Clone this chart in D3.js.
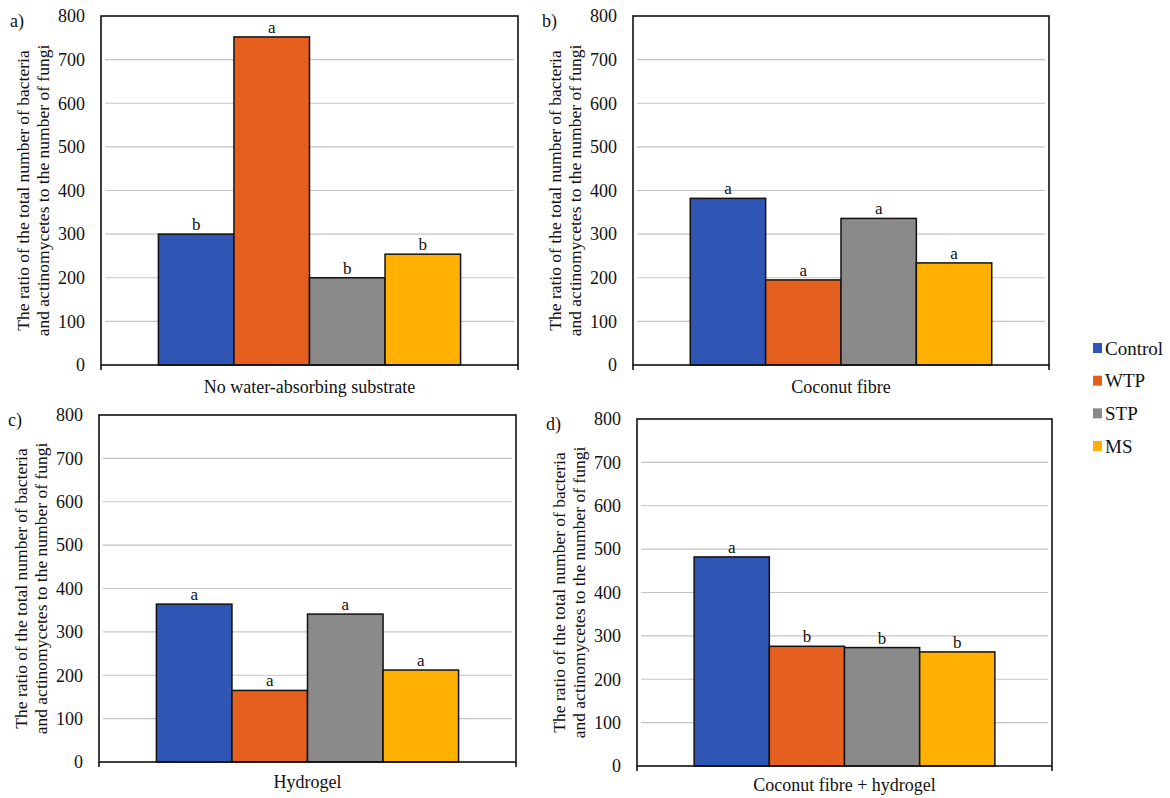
<!DOCTYPE html>
<html>
<head>
<meta charset="utf-8">
<script src="https://cdn.jsdelivr.net/npm/d3@7"></script>
<style>
  body { margin: 0; background: #fff; }
  svg { display: block; font-family: "Liberation Serif", "Times New Roman", serif; }
</style>
</head>
<body>
<svg id="chart" width="1170" height="798"></svg>
<script>
// treatments (series) and the four substrate panels
let categories = ["Control", "WTP", "STP", "MS"];
let colors = ["#2f55b5", "#e55f1f", "#8a8a8a", "#ffb000"];
let panelTags = ["a)", "b)", "c)", "d)"];
let panelTitles = ["No water-absorbing substrate", "Coconut fibre", "Hydrogel", "Coconut fibre + hydrogel"];
let yTicks = [0, 100, 200, 300, 400, 500, 600, 700, 800];

let valuesA = [300, 752, 200, 254];
let valuesB = [382, 195, 336, 234];
let valuesC = [364, 165, 341, 212];
let valuesD = [482, 276, 273, 263];

let lettersA = ["b", "a", "b", "b"];
let lettersB = ["a", "a", "a", "a"];
let lettersC = ["a", "a", "a", "a"];
let lettersD = ["a", "b", "b", "b"];

let yTitle = ["The ratio of the total number of bacteria", "and actinomycetes to the number of fungi"];

// plot boxes for each panel
let panels = [
    { x0: 101, x1: 518, y0: 16, y1: 365, labelGap: 28, values: valuesA, letters: lettersA },
    { x0: 633, x1: 1049, y0: 16, y1: 365, labelGap: 28, values: valuesB, letters: lettersB },
    { x0: 99, x1: 516, y0: 415, y1: 762, labelGap: 26, values: valuesC, letters: lettersC },
    { x0: 637, x1: 1052, y0: 419, y1: 766, labelGap: 25, values: valuesD, letters: lettersD }
];

let svg = d3.select("#chart");

panels.forEach(function (p, i) {
    let g = svg.append("g");

    let y = d3.scaleLinear().domain([0, 800]).range([p.y1, p.y0]);
    let x = d3.scaleBand()
        .domain(categories)
        .range([p.x0, p.x1])
        .paddingInner(0)
        .paddingOuter(0.76);

    // gridlines
    g.selectAll(".grid")
        .data(yTicks.filter(d => d > 0 && d < 800))
        .enter()
        .append("line")
        .attr("x1", p.x0 + 4)
        .attr("x2", p.x1 - 4)
        .attr("y1", d => y(d))
        .attr("y2", d => y(d))
        .attr("stroke", "#c4c4c4")
        .attr("stroke-width", 1.2);

    // bars
    g.selectAll(".bar")
        .data(p.values)
        .enter()
        .append("rect")
        .attr("x", (d, j) => x(categories[j]))
        .attr("y", d => y(d))
        .attr("width", x.bandwidth())
        .attr("height", d => y(0) - y(d))
        .attr("fill", (d, j) => colors[j])
        .attr("stroke", "#111")
        .attr("stroke-width", 1.5);

    // significance letters
    g.selectAll(".letter")
        .data(p.values)
        .enter()
        .append("text")
        .attr("x", (d, j) => x(categories[j]) + x.bandwidth() / 2)
        .attr("y", d => y(d) - 4)
        .attr("text-anchor", "middle")
        .attr("font-size", 17)
        .attr("fill", "#111")
        .text((d, j) => p.letters[j]);

    // frame
    g.append("rect")
        .attr("x", p.x0)
        .attr("y", p.y0)
        .attr("width", p.x1 - p.x0)
        .attr("height", p.y1 - p.y0)
        .attr("fill", "none")
        .attr("stroke", "#111")
        .attr("stroke-width", 1.6);

    // small ticks below x axis at the ends
    g.selectAll(".xtick")
        .data([p.x0, p.x1])
        .enter()
        .append("line")
        .attr("x1", d => d)
        .attr("x2", d => d)
        .attr("y1", p.y1)
        .attr("y2", p.y1 + 5)
        .attr("stroke", "#111")
        .attr("stroke-width", 1.6);

    // y tick labels
    g.selectAll(".ylab")
        .data(yTicks)
        .enter()
        .append("text")
        .attr("x", p.x0 - 16)
        .attr("y", d => y(d))
        .attr("dy", "0.35em")
        .attr("text-anchor", "end")
        .attr("font-size", 18)
        .attr("fill", "#111")
        .text(d => d);

    // y axis title, two lines
    let cy = (p.y0 + p.y1) / 2;
    yTitle.forEach(function (line, k) {
        let tx = p.x0 - 78 + k * 20;
        g.append("text")
            .attr("transform", "translate(" + (tx + 6) + "," + cy + ") rotate(-90)")
            .attr("text-anchor", "middle")
            .attr("font-size", 17.5)
            .attr("fill", "#111")
            .text(line);
    });

    // panel tag
    g.append("text")
        .attr("x", p.x0 - 91)
        .attr("y", p.y0 + 11)
        .attr("font-size", 18)
        .attr("fill", "#111")
        .text(panelTags[i]);

    // category label
    g.append("text")
        .attr("x", (p.x0 + p.x1) / 2)
        .attr("y", p.y1 + p.labelGap)
        .attr("text-anchor", "middle")
        .attr("font-size", 18)
        .attr("fill", "#111")
        .text(panelTitles[i]);
});

// legend
let legendY = d3.scalePoint().domain(categories).range([348, 446]);
let legend = svg.selectAll(".legend")
    .data(categories)
    .enter()
    .append("g")
    .attr("transform", d => "translate(1093," + legendY(d) + ")");

legend.append("rect")
    .attr("x", 0)
    .attr("y", -5)
    .attr("width", 9)
    .attr("height", 10)
    .attr("fill", (d, i) => colors[i]);

legend.append("text")
    .attr("x", 12)
    .attr("dy", "0.35em")
    .attr("font-size", 19)
    .attr("fill", "#111")
    .text(d => d);
</script>
</body>
</html>
